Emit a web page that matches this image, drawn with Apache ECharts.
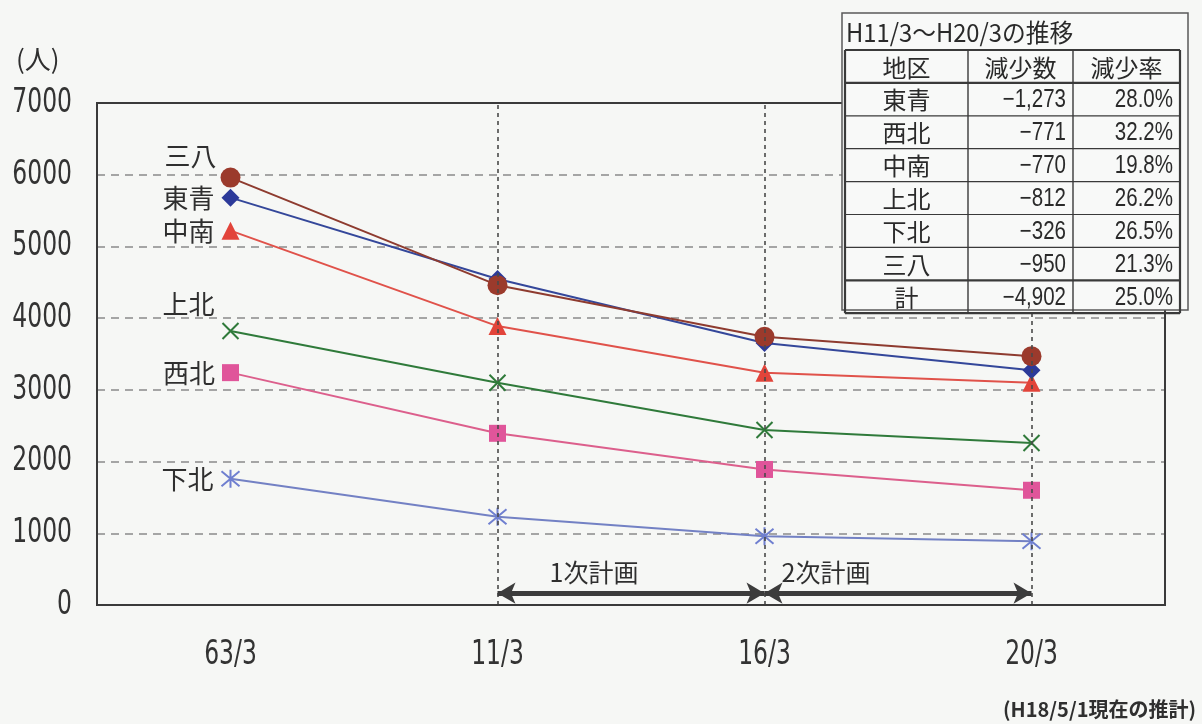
<!DOCTYPE html>
<html>
<head>
<meta charset="utf-8">
<script src="https://cdn.jsdelivr.net/npm/echarts@6/dist/echarts.min.js"></script>
<style>
  html, body { margin: 0; padding: 0; background: #f6f7f5; }
  #chart { width: 1202px; height: 724px; }
</style>
</head>
<body>
<div id="chart"></div>
<script>
// Years (fiscal March snapshots)
const categories = ['63/3', '11/3', '16/3', '20/3'];

// Student counts by district
const tosei   = [5680, 4546, 3654, 3273];  // 東青
const seihoku = [3240, 2394, 1890, 1600];  // 西北
const chunan  = [5220, 3889, 3240, 3100];  // 中南
const kamikita= [3820, 3099, 2440, 2260];  // 上北
const shimokita=[1760, 1230,  960,  890];  // 下北
const sanpachi= [5960, 4460, 3740, 3470];  // 三八

const yTicks = [0, 1000, 2000, 3000, 4000, 5000, 6000, 7000];

// Summary table H11/3 → H20/3
const tableTitle = 'H11/3～H20/3の推移';
const tableHeader = ['地区', '減少数', '減少率'];
const tableRegions = ['東青', '西北', '中南', '上北', '下北', '三八', '計'];
const tableDecrease = ['−1,273', '−771', '−770', '−812', '−326', '−950', '−4,902'];
const tableRate = ['28.0%', '32.2%', '19.8%', '26.2%', '26.5%', '21.3%', '25.0%'];

// Plan periods shown as double arrows
const plans = [
  { name: '1次計画', from: '11/3', to: '16/3', level: 165, shift: -37 },
  { name: '2次計画', from: '16/3', to: '20/3', level: 165, shift: -72 }
];

const axisFont = '"DejaVu Sans", sans-serif';
const numFont = '"Liberation Sans", Arial, sans-serif';
const jpFont = '"Noto Sans CJK JP", sans-serif';
const NARROW = 0.69;   // horizontal squeeze for the condensed axis digits

const crossPath = 'path://M0,0L10,10M10,0L0,10';
const asteriskPath = 'path://M0,0L10,10M10,0L0,10M5,-1L5,11';

// plot frame (matches grid settings below)
const frame = { left: 97, top: 103, right: 37, bottom: 119 };

function lineSeries(name, data, opts) {
  return {
    name: name,
    type: 'line',
    data: data.map((v, i) => i === 0 ? {
      value: v,
      label: {
        show: true, formatter: name, position: 'left',
        offset: opts.labelOffset || [0, 0], distance: opts.labelDist || 7,
        fontSize: 26, color: '#2f2f2f', fontFamily: jpFont
      }
    } : v),
    symbol: opts.symbol,
    symbolSize: opts.size,
    lineStyle: { color: opts.line, width: 2 },
    itemStyle: {
      color: opts.fill, borderColor: opts.stroke || opts.fill,
      borderWidth: opts.borderWidth || 0
    },
    z: opts.z || 3,
    animation: false
  };
}

const chart = echarts.init(document.getElementById('chart'));

const option = {
  backgroundColor: '#f6f7f5',
  animation: false,
  grid: { left: frame.left, right: frame.right, top: frame.top, bottom: frame.bottom },
  xAxis: {
    type: 'category', data: categories, boundaryGap: true,
    axisLine: { lineStyle: { color: '#3a3a3a', width: 2 } },
    axisTick: { show: false },
    axisLabel: { show: false },
    splitLine: { show: false }
  },
  yAxis: {
    type: 'value', min: 0, max: 7000, interval: 1000,
    axisLine: { show: true, lineStyle: { color: '#3a3a3a', width: 2 } },
    axisTick: { show: false },
    axisLabel: { show: false },
    splitLine: { show: true, lineStyle: { color: '#8a8a8a', width: 1.6, type: [8, 6] } }
  },
  series: [
    lineSeries('下北', shimokita, { symbol: asteriskPath, size: 18, line: '#7381c4', fill: '#6f7fd0', stroke: '#6f7fd0', borderWidth: 2 }),
    lineSeries('西北', seihoku, { symbol: 'rect', size: 17, line: '#dc5f8c', fill: '#e0559a' }),
    lineSeries('上北', kamikita, { symbol: crossPath, size: 16, line: '#2f7a3a', fill: '#2f7a3a', stroke: '#2f7a3a', borderWidth: 2, labelOffset: [0, -27] }),
    lineSeries('中南', chunan, { symbol: 'triangle', size: 18, line: '#e0524a', fill: '#e2443a' }),
    lineSeries('東青', tosei, { symbol: 'diamond', size: 18, line: '#34479a', fill: '#2c3a9a' }),
    lineSeries('三八', sanpachi, { symbol: 'circle', size: 20, line: '#8e3b2f', fill: '#9b3a2c', labelOffset: [3, -21], z: 4 }),
    {
      // period guides and plan arrows
      type: 'line', data: [], silent: true,
      markLine: {
        silent: true, animation: false,
        symbol: ['none', 'none'],
        label: { show: false },
        data: [1, 2, 3].map(i => ({
          xAxis: i, lineStyle: { type: [4, 4], color: '#4a4a4a', width: 1.6 }
        })).concat(plans.map(p => [
          { coord: [p.from, p.level], symbol: 'arrow', symbolSize: [16, 18],
            lineStyle: { type: 'solid', color: '#3c3c3c', width: 5 },
            label: { show: true, position: 'middle', formatter: p.name, fontSize: 25,
                     color: '#2f2f2f', fontFamily: jpFont, distance: 8, offset: [p.shift, 0] } },
          { coord: [p.to, p.level], symbol: 'arrow', symbolSize: [16, 18] }
        ]))
      },
      z: 2
    }
  ]
};

chart.setOption(option);

// ---- overlay graphics: axis labels, frame, notes, summary table ----
const g = [];

// frame around the plot
g.push({
  type: 'rect', z: 50, silent: true,
  shape: { x: frame.left, y: frame.top, width: 1202 - frame.left - frame.right, height: 724 - frame.top - frame.bottom },
  style: { fill: 'none', stroke: '#3a3a3a', lineWidth: 2 }
});

// y-axis labels (condensed digits)
yTicks.forEach(v => {
  const py = chart.convertToPixel({ yAxisIndex: 0 }, v);
  g.push({
    type: 'text', x: 72, y: py, scaleX: NARROW,
    style: { text: String(v), fill: '#333', font: '34px ' + axisFont, textAlign: 'right', textVerticalAlign: 'middle' }
  });
});
// x-axis labels
categories.forEach(c => {
  const px = chart.convertToPixel({ xAxisIndex: 0 }, c);
  g.push({
    type: 'text', x: px, y: 655, scaleX: NARROW,
    style: { text: c, fill: '#333', font: '34px ' + axisFont, textAlign: 'center', textVerticalAlign: 'middle' }
  });
});

g.push({ type: 'text', x: 16, y: 46,
  style: { text: '(人)', fill: '#2f2f2f', font: '26px ' + jpFont } });
g.push({ type: 'text', x: 1196, y: 709,
  style: { text: '(H18/5/1現在の推計)', fill: '#2f2f2f', font: 'bold 20px ' + jpFont, textAlign: 'right', textVerticalAlign: 'middle' } });

// summary table
const tbl = { x0: 842, y0: 13, x1: 1188, y1: 310, left: 845, right: 1180,
  cols: [845, 968, 1073, 1180], top: 50, rowH: 32.9 };
g.push({
  type: 'rect', shape: { x: tbl.x0, y: tbl.y0, width: tbl.x1 - tbl.x0, height: tbl.y1 - tbl.y0 },
  style: { fill: '#f8f9f8', stroke: '#5a5a5a', lineWidth: 1.5 }, z: 100
});
g.push({
  type: 'text', x: 846, y: 32, z: 101, scaleX: 0.95,
  style: { text: tableTitle, fill: '#2a2a2a', font: '25px ' + jpFont, textVerticalAlign: 'middle' }
});
const nRows = tableRegions.length + 1;
const tBottom = tbl.top + nRows * tbl.rowH;
for (let r = 0; r <= nRows; r++) {
  const y = tbl.top + r * tbl.rowH;
  const thick = (r === 0 || r === 1 || r === nRows - 1 || r === nRows);
  g.push({
    type: 'line', shape: { x1: tbl.left, y1: y, x2: tbl.right, y2: y },
    style: { stroke: '#3a3a3a', lineWidth: thick ? 2.2 : 1.2 }, z: 101
  });
}
tbl.cols.forEach((x, i) => {
  g.push({
    type: 'line', shape: { x1: x, y1: tbl.top, x2: x, y2: tBottom },
    style: { stroke: '#3a3a3a', lineWidth: (i === 0 || i === 3) ? 2.2 : 1.4 }, z: 101
  });
});
const rowsText = [tableHeader].concat(tableRegions.map((r, i) => [r, tableDecrease[i], tableRate[i]]));
rowsText.forEach((row, r) => {
  const cy = tbl.top + (r + 0.5) * tbl.rowH + 1;
  row.forEach((t, c) => {
    const isNum = !(r === 0 || c === 0);
    g.push({
      type: 'text', z: 102,
      x: isNum ? tbl.cols[c + 1] - 7 : (tbl.cols[c] + tbl.cols[c + 1]) / 2,
      y: cy, scaleX: isNum ? 0.82 : 1,
      style: {
        text: t, fill: '#2a2a2a',
        font: isNum ? '25px ' + numFont : '24px ' + jpFont,
        textAlign: isNum ? 'right' : 'center', textVerticalAlign: 'middle'
      }
    });
  });
});

chart.setOption({ graphic: g });
</script>
</body>
</html>
